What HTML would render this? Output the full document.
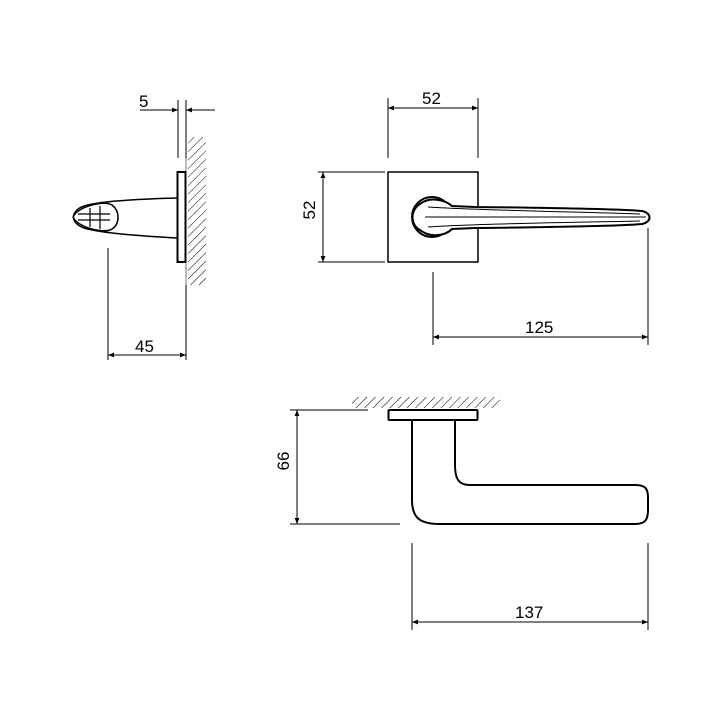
<!DOCTYPE html>
<html><head><style>body{margin:0;background:#fff}svg{display:block}text{font-family:"Liberation Sans",sans-serif;font-size:17px;fill:#000}</style></head><body>
<svg width="720" height="720" viewBox="0 0 720 720" xmlns="http://www.w3.org/2000/svg">
<defs>
<marker id="a" viewBox="0 0 10 10" refX="10" refY="5" markerWidth="10" markerHeight="6" orient="auto-start-reverse" markerUnits="userSpaceOnUse"><path d="M0,1 L10,5 L0,9z" fill="#000"/></marker>
<pattern id="h" width="6" height="6" patternUnits="userSpaceOnUse" patternTransform="rotate(45)"><line x1="0" y1="0" x2="0" y2="6" stroke="#000" stroke-width="1"/></pattern>
</defs>
<g stroke="#000" stroke-width="1" fill="none">
<!-- left view -->
<rect x="188" y="137" width="18" height="148" fill="url(#h)" stroke="none"/>
<line x1="186" y1="137" x2="186" y2="285" stroke="#777"/>
<line x1="178" y1="100" x2="178" y2="158"/>
<line x1="186" y1="100" x2="186" y2="158"/>
<line x1="140" y1="110" x2="178" y2="110" marker-end="url(#a)"/>
<line x1="215" y1="110" x2="186" y2="110" marker-end="url(#a)"/>
<rect x="177.5" y="172" width="8" height="90" fill="#fff" stroke-width="2"/>
<path d="M177,198 C140,199 100,201 84,206 C70,211 70,223 84,228 C100,233 140,236 177,238" stroke-width="1.5"/>
<path d="M73,217 C78,206 105,200 112,205 C120,211 120,224 112,229 C105,234 78,228 73,217z" stroke-width="1.5"/>
<path d="M78,214 L110,214 M78,220 L110,220 M90,208 L90,227 M100,206 L100,229" stroke-width="1.2"/>
<line x1="108" y1="248" x2="108" y2="360"/>
<line x1="186" y1="285" x2="186" y2="360"/>
<line x1="108" y1="355" x2="186" y2="355" marker-start="url(#a)" marker-end="url(#a)"/>
<!-- top right -->
<line x1="388" y1="98" x2="388" y2="158"/>
<line x1="478" y1="98" x2="478" y2="158"/>
<line x1="388" y1="108" x2="478" y2="108" marker-start="url(#a)" marker-end="url(#a)"/>
<line x1="318" y1="172" x2="385" y2="172"/>
<line x1="318" y1="262" x2="385" y2="262"/>
<line x1="323" y1="172" x2="323" y2="262" marker-start="url(#a)" marker-end="url(#a)"/>
<rect x="388" y="172" width="90" height="90" stroke-width="1.5"/>
<circle cx="432" cy="217" r="20" fill="#fff" stroke-width="2"/>
<path d="M420,204 C430,196 445,200 452,206 L475,207 C560,208 620,209 642,211 C652,213 652,222 642,224 C620,226 560,227 475,228 L452,229 C445,236 430,238 420,230 C410,225 410,210 420,204z" fill="#fff" stroke-width="2"/>
<path d="M428,207 C470,210 580,212 640,214 M428,227 C470,224 580,222 640,221 M425,217 C500,217 600,217 646,217" stroke-width="1"/>
<line x1="433" y1="272" x2="433" y2="345"/>
<line x1="648" y1="228" x2="648" y2="345"/>
<line x1="433" y1="337" x2="648" y2="337" marker-start="url(#a)" marker-end="url(#a)"/>
<!-- bottom -->
<rect x="352" y="397" width="148" height="11" fill="url(#h)" stroke="none"/>
<rect x="388.5" y="410" width="89" height="10" rx="1" fill="#fff" stroke-width="2"/>
<path d="M412,420 L412,500 C412,518 420,524 440,524 L635,524 C645,524 648,520 648,510 L648,498 C648,488 645,485 635,485 L470,485 C458,485 455,478 455,465 L455,420" stroke-width="2"/>
<line x1="290" y1="410" x2="368" y2="410"/>
<line x1="290" y1="524" x2="400" y2="524"/>
<line x1="297" y1="410" x2="297" y2="524" marker-start="url(#a)" marker-end="url(#a)"/>
<line x1="412" y1="543" x2="412" y2="630"/>
<line x1="648" y1="543" x2="648" y2="630"/>
<line x1="412" y1="622" x2="648" y2="622" marker-start="url(#a)" marker-end="url(#a)"/>
</g>
<text x="139" y="107">5</text>
<text x="135" y="352">45</text>
<text x="422" y="104">52</text>
<text x="322" y="217" text-anchor="middle" transform="rotate(-90 315 217)">52</text>
<text x="525" y="333">125</text>
<text x="295" y="467" text-anchor="middle" transform="rotate(-90 289 467)">66</text>
<text x="515" y="618">137</text>
</svg>
</body></html>
